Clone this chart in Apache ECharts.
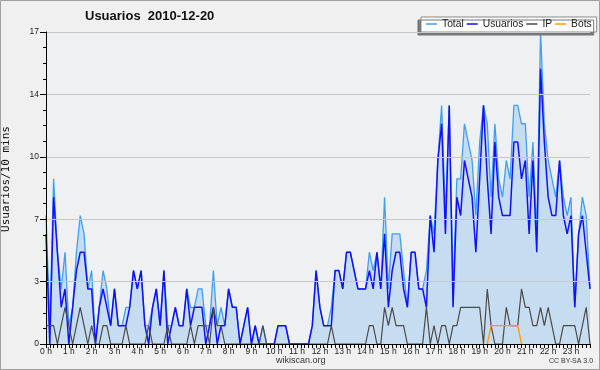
<!DOCTYPE html>
<html><head><meta charset="utf-8">
<script src="https://cdn.jsdelivr.net/npm/echarts@6/dist/echarts.min.js"></script>
<style>html,body{margin:0;padding:0;background:#f0f0f0}#c{width:600px;height:370px}</style>
</head><body><div id="c"></div>
<script>
const hourLabels = ['0 h','1 h','2 h','3 h','4 h','5 h','6 h','7 h','8 h','9 h','10 h','11 h','12 h','13 h','14 h','15 h','16 h','17 h','18 h','19 h','20 h','21 h','22 h','23 h'];
const yTickLabels = ['0','3','7','10','14','17'];
const seriesNames = ['Total','Usuarios','IP','Bots'];
const total = [
 7,1,9,5,3,5,1,2,5,7, 6,3,4,0,2,4,3,1,3,1,
 1,2,2,4,3,4,1,1,2,3, 1,4,1,1,2,1,1,3,2,2,
 3,3,1,1,4,1,2,1,3,2, 2,0,1,2,0,1,0,1,0,0,
 0,1,1,1,0,0,0,0,0,0, 1,4,2,1,1,2,4,4,3,5,
 5,4,3,3,3,5,4,5,3,8, 3,6,6,6,4,2,5,5,3,3,
 4,7,6,10,13,7,13,3,9,9, 12,11,10,7,11,13,12,8,12,9,
 8,10,9,13,13,12,12,8,11,6, 17,12,10,9,8,10,8,7,8,2,
 6,8,7,3];
const usuarios = [
 6,0,8,5,2,3,0,2,4,5, 5,3,3,0,2,3,2,1,3,1,
 1,1,2,4,3,4,1,0,2,3, 1,4,0,1,2,1,1,3,1,2,
 2,2,0,1,2,0,1,1,3,2, 2,0,1,2,0,1,0,0,0,0,
 0,1,1,1,0,0,0,0,0,0, 1,4,2,1,1,1,4,4,3,5,
 5,4,3,3,3,4,3,5,3,6, 2,4,5,5,3,2,5,5,3,3,
 2,7,5,10,12,6,13,2,8,7, 10,9,8,5,9,13,9,6,11,8,
 7,7,7,11,11,9,10,6,10,5, 15,11,8,7,7,10,7,6,7,2,
 6,7,5,3];
const ip = [
 1,1,1,0,1,2,1,0,1,2, 1,0,1,0,0,1,1,0,0,0,
 0,1,0,0,0,0,0,1,0,0, 0,0,1,0,0,0,0,0,1,0,
 1,1,1,0,2,1,1,0,0,0, 0,0,0,0,0,0,0,1,0,0,
 0,0,0,0,0,0,0,0,0,0, 0,0,0,0,0,1,0,0,0,0,
 0,0,0,0,0,1,1,0,0,2, 1,2,1,1,1,0,0,0,0,0,
 2,0,1,0,1,1,0,1,1,2, 2,2,2,2,2,0,3,1,0,0,
 0,2,1,1,1,3,2,2,1,1, 2,1,2,1,0,0,1,1,1,1,
 0,1,2,0];
const bots = [
 null,null,null,null,null,null,null,null,null,null, null,null,null,null,null,null,null,null,null,null,
 null,null,null,null,null,null,null,null,null,null, null,null,null,null,null,null,null,null,null,null,
 null,null,null,null,null,null,null,null,null,null, null,null,null,null,null,null,null,null,null,null,
 null,null,null,null,null,null,null,null,null,null, null,null,null,null,null,null,null,null,null,null,
 null,null,null,null,null,null,null,null,null,null, null,null,null,null,null,null,null,null,null,null,
 null,null,null,null,null,null,null,null,null,null, null,null,null,null,null,null,0,1,1,1,
 1,1,1,1,1,0,null,null,null,null, null,null,null,null,null,null,null,null,null,null,
 null,null,null,null];

const cats = total.map((_, i) => String(i));
const chart = echarts.init(document.getElementById('c'), null, {renderer: 'canvas'});
const lineSeries = (name, data, color, width, extra) => Object.assign({
  name, type: 'line', data, showSymbol: false, symbol: 'none', connectNulls: false,
  lineStyle: {color, width}, itemStyle: {color}, emphasis: {disabled: true}
}, extra || {});

chart.setOption({
  animation: false,
  backgroundColor: '#f0f0f0',
  grid: {left: 46, right: 10, top: 32, bottom: 26, show: true, backgroundColor: '#eef0f2', borderWidth: 0},
  legend: {
    data: seriesNames, left: 421, top: 17, width: 178, orient: 'horizontal',
    padding: [2, 5, 3, 5], itemGap: 3, itemWidth: 11, itemHeight: 1.5, icon: 'rect',
    backgroundColor: '#ffffff', borderColor: '#888888', borderWidth: 1,
    shadowColor: '#777777', shadowBlur: 0, shadowOffsetX: -3, shadowOffsetY: 3,
    textStyle: {fontSize: 10.3, color: '#222', fontFamily: 'Liberation Sans'}
  },
  xAxis: {
    type: 'category', data: cats, boundaryGap: false, z: 10,
    axisLine: {lineStyle: {color: '#000', width: 1}},
    axisTick: {interval: 0, length: 4, lineStyle: {color: '#000'}},
    axisLabel: {interval: 5, margin: 3, fontSize: 8.5, color: '#222', fontFamily: 'Liberation Sans',
      formatter: (v, i) => hourLabels[Math.round(i / 6)]},
    splitLine: {show: false}
  },
  yAxis: {
    type: 'value', min: 0, max: 17, interval: 3.4, z: 10,
    axisLine: {show: true, lineStyle: {color: '#000'}},
    axisTick: {show: true, length: 6, lineStyle: {color: '#000'}},
    minorTick: {show: true, splitNumber: 4, length: 3, lineStyle: {color: '#000'}},
    minorSplitLine: {show: false},
    axisLabel: {margin: 7, fontSize: 8.5, color: '#222', fontFamily: 'Liberation Sans',
      formatter: v => yTickLabels[Math.round(v / 3.4)]},
    splitLine: {lineStyle: {color: '#c8c8c8', width: 1}}
  },
  series: [
    lineSeries('Total', total, '#3f9ff3', 1.3, {areaStyle: {color: '#c6dcf0', opacity: 1}}),
    lineSeries('Usuarios', usuarios, '#1010ff', 1.5),
    lineSeries('IP', ip, '#4a4a4a', 1.2),
    lineSeries('Bots', bots, '#ff9a00', 1.3)
  ],
  graphic: [
    {type: 'rect', silent: true, z: 100, shape: {x: 0.5, y: 0.5, width: 599, height: 369}, style: {fill: null, stroke: '#a0a0a0', lineWidth: 1}},
    {type: 'text', silent: true, left: 85, top: 10, style: {text: 'Usuarios  2010-12-20', fontSize: 13, fontWeight: 'bold', fontFamily: 'Liberation Sans', fill: '#111'}},
    {type: 'text', silent: true, x: 6, y: 179, rotation: Math.PI / 2, style: {text: 'Usuarios/10 mins', fontSize: 11, fontFamily: 'DejaVu Sans Mono', fill: '#111', align: 'center', verticalAlign: 'middle'}},
    {type: 'text', silent: true, left: 276, top: 356, style: {text: 'wikiscan.org', fontSize: 9, fontFamily: 'Liberation Sans', fill: '#333'}},
    {type: 'text', silent: true, left: 549, top: 358, style: {text: 'CC BY-SA 3.0', fontSize: 7, fontFamily: 'Liberation Sans', fill: '#333'}}
  ]
});
</script></body></html>
